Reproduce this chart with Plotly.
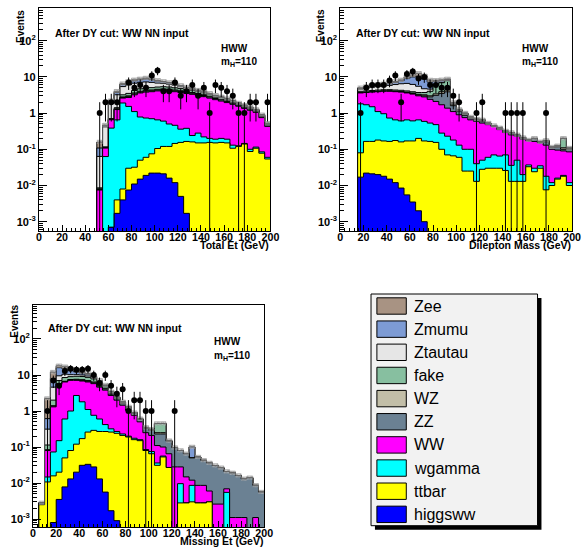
import numpy as np
import plotly.graph_objects as go

# ---------------- data (5 GeV bins, 0-200 GeV) ----------------
bin_edges = list(range(0, 205, 5))
series_names = ["Zee", "Zmumu", "Ztautau", "fake", "WZ", "ZZ", "WW", "wgamma", "ttbar", "higgsww"]
series_colors = ["#a89383", "#7d9bd4", "#e6e6e6", "#87bfa0", "#c2bea8", "#6b8193",
                 "#ff00ff", "#00ffff", "#ffff00", "#0000ff"]

# Panel 1 : Total Et
et_higgsww = [0]*10 + [0, 0, 0.0007, 0.0017, 0.004, 0.0075, 0.011, 0.015, 0.019, 0.022, 0.022, 0.021,
                       0.016, 0.012, 0.005, 0.0017] + [0]*14
et_ttbar = [0]*10 + [0, 0, 0, 0.0023, 0.004, 0.0225, 0.021, 0.035, 0.041, 0.053, 0.083, 0.099, 0.104,
                     0.133, 0.15, 0.163, 0.16, 0.15, 0.15, 0.155, 0.15, 0.155, 0.15, 0.107, 0.12, 0.14,
                     0.087, 0.107, 0.078, 0.054]
et_wgamma = [0]*10 + [0, 0.063, 0.384, 0.646, 1.892, 1.5, 1.068, 0.73, 0.67, 0.625, 0.545, 0.48, 0.38,
                      0.315, 0.205, 0.215, 0.08, 0.13, 0.07, 0.045, 0.04, 0.045, 0.04, 0.023, 0.005,
                      0.005, 0.013, 0.008, 0.007, 0.006]
et_ww = [0]*10 + [0.0075, 0.045, 0.27, 0.6, 0.7, 1.17, 2.1, 2.82, 3.07, 3.2, 3.45, 3.6, 3.6, 3.44, 3.34,
                  3.12, 3.06, 2.82, 2.63, 2.4, 2.16, 1.95, 1.76, 1.62, 1.425, 1.205, 1.1, 0.935, 0.665, 0.37]
et_zz = [0]*10 + [0.0003, 0.002, 0.01, 0.03, 0.1, 0.15, 0.2, 0.2, 0.25, 0.25, 0.25, 0.25, 0.25, 0.25, 0.25,
                  0.24, 0.23, 0.22, 0.21, 0.2, 0.18, 0.17, 0.15, 0.13, 0.11, 0.1, 0.09, 0.08, 0.06, 0.04]
et_wz = [0]*10 + [0.0003, 0.002, 0.01, 0.03, 0.1, 0.15, 0.2, 0.2, 0.2, 0.2, 0.2, 0.2, 0.2, 0.2, 0.2,
                  0.18, 0.17, 0.16, 0.15, 0.14, 0.12, 0.11, 0.1, 0.09, 0.07, 0.06, 0.05, 0.04, 0.03, 0.02]
et_fake = [0]*10 + [0.0005, 0.005, 0.03, 0.1, 0.4, 0.5, 0.6, 0.7, 0.7, 0.7, 0.7, 0.7, 0.7, 0.65, 0.6,
                    0.55, 0.5, 0.45, 0.4, 0.35, 0.3, 0.26, 0.22, 0.18, 0.14, 0.12, 0.1, 0.07, 0.05, 0.03]
et_ztautau = [0]*10 + [0.055, 0.3, 1.2, 1.8, 2.2, 2.5, 2.5, 2.4, 2.3, 2.0, 1.5, 1.2, 1.0, 0.85, 0.6,
                       0.45, 0.3, 0.22, 0.17, 0.13, 0.1, 0.07, 0.05, 0.03, 0.02, 0.015, 0.01, 0.01, 0.01, 0]
et_zmumu = [0]*10 + [0.045, 0.03, 0.2, 0.5, 0.8, 1.0, 1.1, 1.2, 1.5, 1.3, 0.9, 0.7, 0.55, 0.5, 0.35,
                     0.2, 0.15, 0.1, 0.08, 0.05, 0.03, 0.02, 0.02, 0.01, 0.005, 0.005, 0, 0, 0, 0]
et_zee = [0]*10 + [0.05, 0.02, 0.1, 0.3, 0.3, 0.5, 0.5, 0.5, 0.55, 0.45, 0.35, 0.25, 0.2, 0.15, 0.1,
                   0.08, 0.05, 0.05, 0.04, 0.03, 0.02, 0.02, 0.01, 0.01, 0.005, 0, 0, 0, 0, 0]
et_data = [0]*10 + [1, 2, 2, 2, 0, 7, 5, 6, 5, 11, 15, 4, 4, 7, 3, 4, 6, 3, 5, 1, 6, 5, 4, 3, 1, 1,
                    2, 2, 0, 2]

# Panel 2 : Dilepton mass
ml_higgsww = [0]*3 + [0.017, 0.022, 0.021, 0.02, 0.018, 0.015, 0.012, 0.0085, 0.0055, 0.0035, 0.002,
                      0.001] + [0]*25
ml_ttbar = [0]*3 + [0.063, 0.143, 0.144, 0.16, 0.152, 0.15, 0.163, 0.1515, 0.1645, 0.1665, 0.198, 0.169,
                    0.165, 0.155, 0.1, 0.07, 0.066, 0.06, 0.025, 0.025, 0.013, 0.028, 0.03, 0.03, 0.03,
                    0.026, 0.013, 0.013, 0.013, 0.033, 0.024, 0.03, 0.0076, 0.01, 0.015, 0.018, 0.01]
ml_wgamma = [0]*3 + [1.72, 1.535, 1.335, 0.92, 0.79, 0.565, 0.475, 0.45, 0.48, 0.44, 0.45, 0.42, 0.365,
                     0.325, 0.18, 0.16, 0.114, 0.07, 0.075, 0.075, 0.027, 0.022, 0.03, 0.04, 0.035, 0.044,
                     0.023, 0.037, 0.007, 0.004, 0.006, 0.005, 0.0104, 0.002, 0.001, 0.001, 0.002]
ml_ww = [0]*3 + [1.8, 2.0, 2.3, 2.8, 3.04, 3.27, 3.25, 3.19, 2.95, 2.74, 2.35, 2.21, 1.87, 1.62, 1.42,
                 1.14, 0.92, 0.77, 0.65, 0.55, 0.55, 0.48, 0.42, 0.36, 0.285, 0.22, 0.214, 0.18, 0.17,
                 0.133, 0.135, 0.115, 0.112, 0.088, 0.079, 0.071, 0.073]
ml_zz = [0]*3 + [0.05, 0.05, 0.05, 0.06, 0.06, 0.07, 0.07, 0.08, 0.1, 0.12, 0.15, 0.2, 0.4, 1.0, 1.8, 2.5,
                 0.5, 0.2, 0.12, 0.06, 0.05, 0.06, 0.03, 0.01, 0.02, 0.02, 0.03, 0.015, 0.015, 0.008,
                 0.03, 0.008, 0.03, 0.01, 0.02, 0.01, 0.015]
ml_wz = [0]*3 + [0.05, 0.05, 0.05, 0.06, 0.06, 0.07, 0.07, 0.08, 0.1, 0.12, 0.15, 0.2, 0.2, 0.3, 0.4, 0.5,
                 0.15, 0.08, 0.06, 0.04, 0.02, 0.03, 0.01, 0.005, 0.01, 0.005, 0.005, 0.003, 0.003,
                 0.001, 0.003, 0.001, 0.008, 0.003, 0.005, 0.01, 0.005]
ml_fake = [0]*3 + [0.3, 0.3, 0.3, 0.3, 0.3, 0.3, 0.3, 0.3, 0.3, 0.3, 0.4, 0.5, 1.0, 2.5, 3.0, 3.5, 0.1,
                   0.05, 0.05, 0.03, 0.02, 0.03, 0.01, 0.005, 0.01, 0.005, 0.005, 0.002, 0.002, 0.001,
                   0.002, 0.001, 0.007, 0.002, 0.005, 0.09, 0.003]
ml_ztautau = [0]*3 + [0.6, 0.8, 1.0, 1.1, 1.2, 1.4, 1.8, 2.2, 2.5, 2.3, 1.8, 1.0, 0.6, 0.3, 0.2, 0.1,
                      0.02, 0.01, 0.01] + [0]*18
ml_zmumu = [0]*3 + [0.2, 0.3, 0.4, 0.4, 0.5, 0.6, 0.9, 1.3, 2.4, 3.8, 5.0, 4.0, 2.6, 1.3, 0.8, 0.5,
                    0.05, 0.01, 0.01] + [0]*18
ml_zee = [0]*3 + [0.2, 0.2, 0.3, 0.3, 0.3, 0.4, 0.4, 0.5, 0.9, 1.3, 2.0, 2.0, 1.0, 0.5, 0.4, 0.3, 0.03,
                  0, 0] + [0]*18
ml_data = [0]*3 + [1, 5, 6, 6, 6, 8, 11, 2, 12, 14, 9, 10, 6, 6, 5, 5, 3, 2, 0, 0, 1, 2, 0, 0, 0, 1, 1,
                   1, 1, 0, 0, 0, 1, 0, 0, 0, 0]

# Panel 3 : Missing Et
mt_higgsww = [0, 0, 0, 0.0008, 0.0035, 0.0078, 0.013, 0.02, 0.031, 0.033, 0.028, 0.013, 0.0056, 0.0017,
              0.0009] + [0]*25
mt_ttbar = [0, 0.0025, 0.0107, 0.015, 0.0165, 0.042, 0.067, 0.1, 0.14, 0.227, 0.262, 0.257, 0.264, 0.258,
            0.239, 0.21, 0.19, 0.16, 0.15, 0.08, 0.065, 0.031, 0.053, 0.027, 0, 0.0028, 0.0028, 0.003,
            0.0028, 0.0028, 0.003] + [0]*9
mt_wgamma = [0, 0, 0.004, 0.057, 0.13, 0.55, 0.92, 2.58, 1.63, 0.84, 0.47, 0.33, 0.15, 0.06, 0.03, 0.02,
             0.01, 0.015, 0.01, 0.005, 0.01, 0.005, 0.003, 0, 0, 0.0068, 0, 0.0056, 0, 0, 0, 0, 0,
             0.0055] + [0]*6
mt_ww = [0, 0, 0.065, 1.23, 5.35, 5.8, 6.1, 4.4, 5.0, 5.3, 4.99, 4.0, 3.38, 2.38, 1.73, 1.22, 0.84, 0.585,
         0.34, 0.165, 0.135, 0.074, 0.044, 0.038, 0.028, 0.0184, 0.012, 0.0034, 0.0058, 0.0058, 0.003,
         0.0026, 0.0026, 0.0014, 0.0011, 0.0011, 0.0011, 0, 0.0011, 0]
mt_zz = [0, 0.0003, 0.002, 0.05, 0.1, 0.15, 0.2, 0.25, 0.3, 0.3, 0.35, 0.3, 0.3, 0.25, 0.2, 0.17, 0.14,
         0.1, 0.08, 0.08, 0.08, 0.12, 0.13, 0.08, 0.068, 0.052, 0.05, 0.038, 0.044, 0.034, 0.03, 0.028,
         0.024, 0.014, 0.018, 0.015, 0.012, 0.014, 0.0075, 0.0056]
mt_wz = [0, 0, 0.002, 0.05, 0.1, 0.15, 0.2, 0.25, 0.3, 0.3, 0.3, 0.3, 0.2, 0.15, 0.1, 0.08, 0.06, 0.03,
         0.02, 0.01, 0.01, 0.02, 0.02, 0.005] + [0]*16
mt_fake = [0, 0, 0.03, 0.6, 1.3, 1.8, 1.5, 1.6, 1.7, 1.6, 1.4, 1.0, 0.6, 0.25, 0.12, 0.08, 0.06, 0.01,
           0.01, 0.01, 0.01, 0.2, 0.2] + [0]*17
mt_ztautau = [0, 0, 0.2, 2.6, 2.5, 2.0, 1.2, 1.0, 0.9, 0.8, 0.6, 0.4, 0.2, 0.03, 0.02, 0.01] + [0]*24
mt_zmumu = [0, 0, 0.3, 3.4, 6.5, 4.5, 3.0, 2.0, 1.4, 1.0, 0.5, 0.3, 0.1, 0.01, 0.005] + [0]*12 + [0.05] + [0]*12
mt_zee = [0, 0, 1.6, 4.0, 2.0, 2.0, 1.5, 1.2, 0.8, 0.6, 0.3, 0.2, 0.05, 0.01, 0.005] + [0]*25
mt_data = [0, 0, 1, 7, 5, 13, 15, 14, 14, 15, 10, 6, 10, 5, 3, 4, 1, 2, 2, 1, 1, 0, 0, 0, 1] + [0]*15

x_tick_vals = list(range(0, 201, 20))
y_tick_vals = [1e-3, 1e-2, 1e-1, 1, 10, 100]
y_tick_text = ["10<sup>-3</sup>", "10<sup>-2</sup>", "10<sup>-1</sup>", "1", "10", "10<sup>2</sup>"]
x_titles = ["Total Et (GeV)", "Dilepton Mass (GeV)", "Missing Et (GeV)"]

# ---------------- layout geometry (pixels) ----------------
W, H = 587, 550
FONT = "Liberation Sans, Arial, Helvetica, sans-serif"
panels = [
    dict(x0=36.7, x1=273.0, y0=8.0, y1=231.0, yr=[-3.257, 2.903], ax="", comps=[
        et_higgsww, et_ttbar, et_wgamma, et_ww, et_zz, et_wz, et_fake, et_ztautau, et_zmumu, et_zee],
        data=et_data, title=x_titles[0], txt=(50.7, 32.7), hww=(220, 48.3), mh=(220, 61.7), ev=(18.3, 26)),
    dict(x0=344.3, x1=581.0, y0=8.0, y1=231.0, yr=[-3.257, 2.903], ax="2", comps=[
        ml_higgsww, ml_ttbar, ml_wgamma, ml_ww, ml_zz, ml_wz, ml_fake, ml_ztautau, ml_zmumu, ml_zee],
        data=ml_data, title=x_titles[1], txt=(358.3, 32.7), hww=(527.3, 48.3), mh=(527.3, 61.7), ev=(325, 26)),
    dict(x0=30.7, x1=266.7, y0=305.0, y1=527.3, yr=[-3.23, 2.944], ax="3", comps=[
        mt_higgsww, mt_ttbar, mt_wgamma, mt_ww, mt_zz, mt_wz, mt_fake, mt_ztautau, mt_zmumu, mt_zee],
        data=mt_data, title=x_titles[2], txt=(44.3, 328.3), hww=(213.3, 341), mh=(213.3, 356), ev=(11, 321)),
]
stack_colors_bottom_up = series_colors[::-1]  # higgsww ... Zee
sys_frac = 0.12
TINY = 1e-7


def px(x):
    return x / W


def py(y):
    return 1 - y / H


fig = go.Figure()
annotations = []
shapes = []
minor_y = [m * 10.0 ** k for k in range(-4, 3) for m in range(2, 10)]

for p in panels:
    xa, ya = "x" + p["ax"], "y" + p["ax"]
    comps = np.array(p["comps"], dtype=float)
    cum = np.cumsum(comps, axis=0)  # bottom -> top
    # stacked histograms drawn from the top layer downward
    for k in range(cum.shape[0] - 1, -1, -1):
        yv = np.where(cum[k] > 0, cum[k], TINY)
        yv = np.append(yv, yv[-1])
        fig.add_trace(go.Scatter(
            x=bin_edges, y=yv, mode="lines", xaxis=xa, yaxis=ya,
            line=dict(shape="hv", color="black", width=1),
            fill="tozeroy", fillcolor=stack_colors_bottom_up[k],
            showlegend=False, hoverinfo="skip"))
    # systematic band on total
    total = cum[-1]
    nz = np.nonzero(total > 0)[0]
    i0 = nz[0]
    xb = bin_edges[i0:]
    tb = np.append(total[i0:], total[-1])
    fig.add_trace(go.Scatter(x=xb, y=tb * (1 - sys_frac), mode="lines", xaxis=xa, yaxis=ya,
                             line=dict(shape="hv", width=0, color="rgba(0,0,0,0)"),
                             showlegend=False, hoverinfo="skip"))
    fig.add_trace(go.Scatter(x=xb, y=tb * (1 + sys_frac), mode="lines", xaxis=xa, yaxis=ya,
                             line=dict(shape="hv", width=0.6, color="#909090"),
                             fill="tonexty", fillcolor="rgba(160,160,160,0.55)",
                             fillpattern=dict(shape="x", fgcolor="#6e6e6e", bgcolor="rgba(200,200,200,0.5)",
                                              size=3, solidity=0.5),
                             showlegend=False, hoverinfo="skip"))
    # data points
    d = np.array(p["data"], dtype=float)
    centers = np.array(bin_edges[:-1]) + 2.5
    m = d > 0
    err_hi = np.sqrt(d[m])
    err_lo = np.minimum(np.sqrt(d[m]), d[m] - TINY)
    fig.add_trace(go.Scatter(
        x=centers[m], y=d[m], mode="markers", xaxis=xa, yaxis=ya,
        marker=dict(color="black", size=6, symbol="circle"),
        error_y=dict(type="data", symmetric=False, array=err_hi, arrayminus=err_lo,
                     color="black", thickness=1, width=0),
        showlegend=False, hoverinfo="skip"))

    xkey = "xaxis" + p["ax"]
    ykey = "yaxis" + p["ax"]
    fig.layout[xkey] = dict(
        domain=[px(p["x0"]), px(p["x1"])], range=[0, 200], anchor=ya,
        tickmode="array", tickvals=x_tick_vals, ticktext=[str(v) for v in x_tick_vals],
        ticks="inside", ticklen=6, tickwidth=1, tickcolor="black", ticklabelstandoff=-4,
        minor=dict(ticks="inside", ticklen=3, dtick=4, tick0=0, tickcolor="black", showgrid=False),
        showline=True, mirror=True, linecolor="black", linewidth=1,
        showgrid=False, zeroline=False,
        tickfont=dict(family=FONT, size=10.7, color="black", weight="bold"))
    fig.layout[ykey] = dict(
        domain=[py(p["y1"]), py(p["y0"])], type="log", range=p["yr"], anchor=xa,
        tickmode="array", tickvals=y_tick_vals, ticktext=y_tick_text,
        ticks="inside", ticklen=8, tickwidth=1, tickcolor="black",
        minor=dict(ticks="inside", ticklen=4, tickmode="array", tickvals=minor_y,
                   tickcolor="black", showgrid=False),
        showline=True, mirror=True, linecolor="black", linewidth=1,
        showgrid=False, zeroline=False,
        tickfont=dict(family=FONT, size=11, color="black", weight="bold"))

    annotations += [
        dict(x=px(p["txt"][0]), y=py(p["txt"][1]), xref="paper", yref="paper", xanchor="left",
             yanchor="middle", showarrow=False, text="<b>After DY cut: WW NN input</b>",
             font=dict(family=FONT, size=10.5, color="black")),
        dict(x=px(p["hww"][0]), y=py(p["hww"][1]), xref="paper", yref="paper", xanchor="left",
             yanchor="middle", showarrow=False, text="<b>HWW</b>",
             font=dict(family=FONT, size=10, color="black")),
        dict(x=px(p["mh"][0]), y=py(p["mh"][1]), xref="paper", yref="paper", xanchor="left",
             yanchor="middle", showarrow=False, text="<b>m<sub>H</sub>=110</b>",
             font=dict(family=FONT, size=10, color="black")),
        dict(x=px(p["ev"][0]), y=py(p["ev"][1]), xref="paper", yref="paper", xanchor="center",
             yanchor="middle", showarrow=False, text="<b>Events</b>", textangle=-90,
             font=dict(family=FONT, size=10, color="black")),
        dict(x=px(p["x1"] + 1), y=py(p["y1"] + 14.0), xref="paper", yref="paper", xanchor="right",
             yanchor="middle", showarrow=False, text="<b>" + p["title"] + "</b>",
             font=dict(family=FONT, size=10.5, color="black")),
    ]

# ---------------- legend box ----------------
lx0, lx1, ly0, ly1 = 375.7, 545.7, 294.0, 525.7
shadow = 4
shapes.append(dict(type="rect", xref="paper", yref="paper", x0=px(lx0 + shadow), x1=px(lx1 + shadow),
                   y0=py(ly1 + shadow), y1=py(ly0 + shadow), fillcolor="black", line=dict(width=0)))
shapes.append(dict(type="rect", xref="paper", yref="paper", x0=px(lx0), x1=px(lx1),
                   y0=py(ly1), y1=py(ly0), fillcolor="#f2f2f2", line=dict(color="black", width=1)))
entry_y0, entry_dy = 306.0, 23.15
for i, (name, col) in enumerate(zip(series_names, series_colors)):
    cy = entry_y0 + i * entry_dy
    shapes.append(dict(type="rect", xref="paper", yref="paper", x0=px(381.7), x1=px(411.7),
                       y0=py(cy + 8.2), y1=py(cy - 8.2), fillcolor=col,
                       line=dict(color="black", width=1)))
    annotations.append(dict(x=px(417.7), y=py(cy), xref="paper", yref="paper", xanchor="left",
                            yanchor="middle", showarrow=False, text=name,
                            font=dict(family=FONT, size=16, color="black")))

fig.update_layout(width=W, height=H, autosize=False, margin=dict(l=0, r=0, t=0, b=0),
                  paper_bgcolor="white", plot_bgcolor="white", showlegend=False,
                  annotations=annotations, shapes=shapes)

fig.write_html("out.html", config={"displayModeBar": False},
               post_script="document.body.style.margin='0';document.body.style.overflow='hidden';")
